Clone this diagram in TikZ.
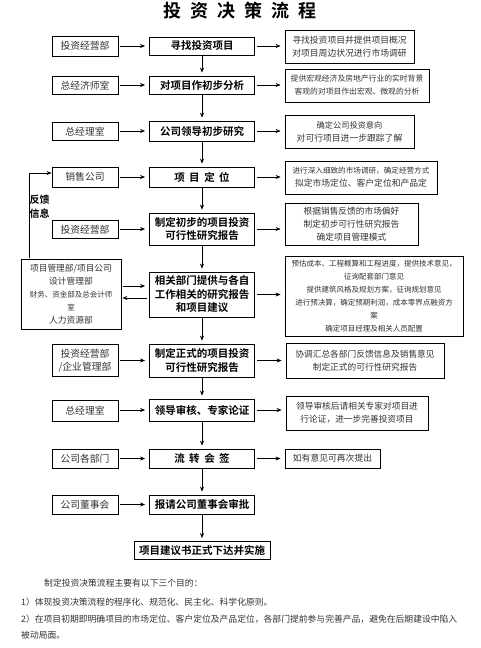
\documentclass[tikz,border=0pt]{standalone}
\usepackage{fontspec}
\usetikzlibrary{arrows.meta}
\newfontfamily\cjk{Noto Sans CJK SC}
\newfontfamily\cjkb{Noto Sans CJK SC Bold}
\newcommand\fsz[1]{\fontsize{#1}{13}\selectfont}
\tikzset{
  box/.style={draw, line width=0.8pt, inner sep=0pt, align=center},
  mid/.style={box, minimum width=105, font=\cjkb\fontsize{10.5}{13.5}\selectfont},
  lft/.style={box, text=black!80, minimum width=66, font=\cjk\fontsize{9.8}{12.5}\selectfont},
  rgt/.style={box, text=black!80, font=\cjk\fontsize{8.5}{13}\selectfont},
  arr/.style={-{Stealth[length=5pt,width=4pt]}, line width=0.6pt},
  harr/.style={arr, shorten <=2pt, shorten >=4pt},
  varr/.style={arr, shorten >=3pt},
  note/.style={anchor=base west, inner sep=0pt, text=black!80, font=\cjk\fontsize{8.8}{13}\selectfont},
}
\begin{document}
\begin{tikzpicture}[x=1pt,y=-1pt]
\useasboundingbox (0,0) rectangle (480,648);
\fill[white] (0,0) rectangle (480,648);

\node[font=\cjkb\fontsize{18}{20}\selectfont] (title) at (240,11)
  {投\hspace{9pt}资\hspace{9pt}决\hspace{9pt}策\hspace{9pt}流\hspace{9pt}程};

% middle column
\node[mid, minimum height=18] (m1) at (202,46) {寻找投资项目};
\node[mid, minimum height=18] (m2) at (202,85) {对项目作初步分析};
\node[mid, minimum height=20] (m3) at (202,131) {公司领导初步研究};
\node[mid, minimum height=20] (m4) at (202,177) {项\hspace{4.5pt}目\hspace{4.5pt}定\hspace{4.5pt}位};
\node[mid, minimum height=32] (m5) at (202,229) {制定初步的项目投资\\可行性研究报告};
\node[mid, minimum height=45] (m6) at (202,294.5) {相关部门提供与各自\\工作相关的研究报告\\和项目建议};
\node[mid, minimum height=33] (m7) at (202,360.5) {制定正式的项目投资\\可行性研究报告};
\node[mid, minimum height=22] (m8) at (202,410) {领导审核、专家论证};
\node[mid, minimum height=19] (m9) at (202,458.5) {流\hspace{4.5pt}转\hspace{4.5pt}会\hspace{4.5pt}签};
\node[mid, minimum height=19] (m10) at (202,504.5) {报请公司董事会审批};
\node[mid, minimum width=136, minimum height=18] (m11) at (202,550.5) {项目建议书正式下达并实施};

% left column
\node[lft, minimum height=20] (l1) at (85,46) {投资经营部};
\node[lft, minimum height=18] (l2) at (85,85.5) {总经济师室};
\node[lft, minimum height=18] (l3) at (85,131.5) {总经理室};
\node[lft, minimum height=20] (l4) at (85,177) {销售公司};
\node[lft, minimum height=18] (l5) at (85,229.5) {投资经营部};
\node[lft, minimum width=100, minimum height=70, font=\cjk\fontsize{8.7}{13}\selectfont] (l6) at (71,294.5)
  {项目管理部/项目公司\\设计管理部\\\fsz{7.5}财务、资金部及总会计师\\\fsz{7.5}室\\\fsz{8.7}人力资源部};
\node[lft, minimum height=32] (l7) at (85,360.5) {投资经营部\\/企业管理部};
\node[lft, minimum height=21] (l8) at (85,410.5) {总经理室};
\node[lft, minimum height=19] (l9) at (85,458.5) {公司各部门};
\node[lft, minimum height=19] (l10) at (85,504.5) {公司董事会};

% right column
\node[rgt, minimum width=129, minimum height=33, font=\cjk\fontsize{8.8}{13}\selectfont] (r1) at (349.5,46.5)
  {寻找投资项目并提供项目概况\\对项目周边状况进行市场调研};
\node[rgt, minimum width=144, minimum height=33, font=\cjk\fontsize{7.8}{13}\selectfont] (r2) at (357,85.5)
  {提供宏观经济及房地产行业的实时背景\\客观的对项目作出宏观、微观的分析};
\node[rgt, minimum width=129, minimum height=33] (r3) at (349.5,131.5)
  {\fsz{8.2}确定公司投资意向\\\fsz{8.8}对可行项目进一步跟踪了解};
\node[rgt, minimum width=152, minimum height=33] (r4) at (361,177.5)
  {\fsz{7.6}进行深入细致的市场调研，确定经营方式\\\fsz{8.8}拟定市场定位、客户定位和产品定};
\node[rgt, minimum width=133, minimum height=42, font=\cjk\fontsize{8.7}{13}\selectfont] (r5) at (351.5,224)
  {根据销售反馈的市场偏好\\制定初步可行性研究报告\\确定项目管理模式};
\node[rgt, minimum width=178, minimum height=80, font=\cjk\fontsize{7.5}{13}\selectfont] (r6) at (374,296)
  {预估成本、工程概算和工程进度，提供技术意见，\\征询配套部门意见\\提供建筑风格及规划方案，征询规划意见\\进行预决算，确定预期利润，成本零界点融资方\\案\\确定项目经理及相关人员配置};
\node[rgt, minimum width=158, minimum height=35, font=\cjk\fontsize{8.7}{12.5}\selectfont] (r7) at (365,360.5)
  {协调汇总各部门反馈信息及销售意见\\制定正式的可行性研究报告};
\node[rgt, minimum width=142, minimum height=34, font=\cjk\fontsize{8.7}{13.5}\selectfont] (r8) at (357,413)
  {领导审核后请相关专家对项目进\\行论证，进一步完善投资项目};
\node[rgt, minimum width=95, minimum height=19, font=\cjk\fontsize{8.8}{13}\selectfont] (r9) at (332.5,458.5)
  {如有意见可再次提出};

% horizontal arrows
\foreach \i in {1,2,3,4,5,7,8,9,10} {
  \draw[harr] (l\i.east |- m\i.center) -- (m\i.west);
}
\foreach \i in {1,2,3,4,5,6,7,8,9} {
  \draw[harr] (m\i.east) -- (m\i.east -| r\i.west);
}
\draw[harr] (l6.east |- 0,286) -- (m6.west |- 0,286);
\draw[arr, shorten <=2pt, shorten >=1pt] (m6.west |- 0,298) -- (l6.east |- 0,298);

% vertical arrows
\foreach \i/\j in {1/2,2/3,3/4,4/5,5/6,6/7,7/8,8/9,9/10,10/11} {
  \draw[varr] (m\i) -- (m\j);
}

% feedback
\coordinate (fb) at (29,258);
\draw[arr] (fb) |- ([yshift=4pt]l4.west);
\node[font=\cjkb\fontsize{10}{14}\selectfont, align=center, inner sep=0pt] (fbt) at (39.5,207) {反馈\\信息};

% notes
\node[note] (n1) at (44,586) {制定投资决策流程主要有以下三个目的：};
\node[note] (n2) at (21,605) {1）体现投资决策流程的程序化、规范化、民主化、科学化原则。};
\node[note] (n3) at (21,622) {2）在项目初期即明确项目的市场定位、客户定位及产品定位，各部门提前参与完善产品，避免在后期建设中陷入};
\node[note] (n4) at (21,638) {被动局面。};
\end{tikzpicture}
\end{document}
